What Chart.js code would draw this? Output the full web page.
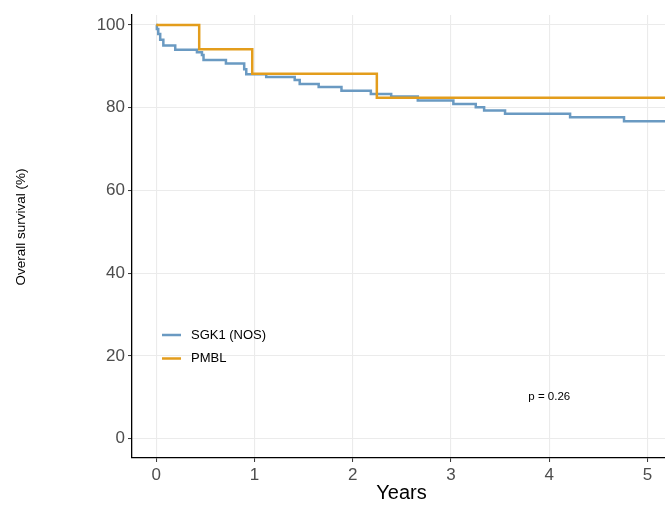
<!DOCTYPE html>
<html>
<head>
<meta charset="utf-8">
<script src="https://cdn.jsdelivr.net/npm/chart.js@4.4.1/dist/chart.umd.min.js"></script>
<style>
  html, body { margin: 0; padding: 0; background: #ffffff; }
  #wrap { width: 665px; height: 508px; }
</style>
</head>
<body>
<div id="wrap"><canvas id="km" width="665" height="508"></canvas></div>
<script>
// Kaplan-Meier estimates: event times (years) and survival (%) after each step
const sgkTimes = [0, 0.006, 0.020, 0.040, 0.072, 0.193, 0.414, 0.465, 0.481, 0.709, 0.895, 0.916,
  1.119, 1.409, 1.460, 1.653, 1.885, 2.184, 2.391, 2.662, 3.024, 3.252, 3.337, 3.550,
  4.212, 4.761, 5.300];
const sgkSurv = [100, 99.0, 97.8, 96.4, 95.0, 94.0, 93.4, 92.7, 91.5, 90.7, 89.3, 88.1,
  87.4, 86.7, 85.7, 85.0, 84.1, 83.3, 82.7, 81.7, 80.9, 80.1, 79.3, 78.5,
  77.7, 76.7, 76.7];

const pmblTimes = [0, 0.437, 0.977, 2.245, 5.300];
const pmblSurv = [100, 94.1, 88.2, 82.4, 82.4];

const seriesNames = ['SGK1 (NOS)', 'PMBL'];
const seriesColors = ['#6a9ac2', '#e39d1c'];

const xTickValues = [0, 1, 2, 3, 4, 5];
const yTickValues = [0, 20, 40, 60, 80, 100];

const xLabel = 'Years';
const yLabel = 'Overall survival (%)';
const pValueText = 'p = 0.26';

const toPoints = (t, s) => t.map((x, i) => ({ x: x, y: s[i] }));

const FONT = '"Liberation Sans", Arial, Helvetica, sans-serif';

// titles, in-panel legend and p-value annotation
const annotations = {
  id: 'kmAnnotations',
  afterDraw(chart) {
    const ctx = chart.ctx;
    const area = chart.chartArea;
    const xs = chart.scales.x;
    const ys = chart.scales.y;
    ctx.save();

    // x axis title
    ctx.fillStyle = '#000000';
    ctx.font = '20px ' + FONT;
    ctx.textAlign = 'center';
    ctx.textBaseline = 'middle';
    ctx.fillText(xLabel, (area.left + area.right) / 2 + 3, 493);

    // y axis title
    ctx.save();
    ctx.translate(21, 227);
    ctx.rotate(-Math.PI / 2);
    ctx.font = '13.5px ' + FONT;
    ctx.fillText(yLabel, 0, 0);
    ctx.restore();

    // legend
    ctx.font = '13px ' + FONT;
    ctx.textAlign = 'left';
    const legX = 162, legY0 = 335, legStep = 23.5;
    seriesNames.forEach((name, i) => {
      const yy = legY0 + i * legStep;
      ctx.strokeStyle = seriesColors[i];
      ctx.lineWidth = 2.5;
      ctx.beginPath();
      ctx.moveTo(legX, yy);
      ctx.lineTo(legX + 19, yy);
      ctx.stroke();
      ctx.fillStyle = '#000000';
      ctx.fillText(name, legX + 29, yy);
    });

    // log-rank p-value
    ctx.font = '11.5px ' + FONT;
    ctx.textAlign = 'center';
    ctx.fillText(pValueText, xs.getPixelForValue(4.0), ys.getPixelForValue(10.2));

    ctx.restore();
  }
};

new Chart(document.getElementById('km'), {
  type: 'line',
  data: {
    datasets: [
      {
        label: seriesNames[0],
        data: toPoints(sgkTimes, sgkSurv),
        borderColor: seriesColors[0],
        borderWidth: 2.5,
        stepped: 'before',
        pointRadius: 0,
        fill: false,
        order: 1
      },
      {
        label: seriesNames[1],
        data: toPoints(pmblTimes, pmblSurv),
        borderColor: seriesColors[1],
        borderWidth: 2.5,
        stepped: 'before',
        pointRadius: 0,
        fill: false,
        order: 0
      }
    ]
  },
  options: {
    responsive: false,
    animation: false,
    layout: { padding: { top: 15, right: 0, left: 0, bottom: 0 } },
    plugins: {
      legend: { display: false },
      tooltip: { enabled: false }
    },
    scales: {
      x: {
        type: 'linear',
        min: -0.247,
        max: 5.178,
        afterBuildTicks: s => { s.ticks = xTickValues.map(v => ({ value: v })); },
        afterFit: s => { s.height = 50; },
        grid: {
          color: '#ebebeb',
          lineWidth: 1.1,
          drawTicks: true,
          tickLength: 4,
          tickColor: '#333333',
          tickWidth: 1
        },
        border: { display: true, color: '#000000', width: 1.3 },
        ticks: {
          color: '#4d4d4d',
          font: { family: FONT, size: 17 },
          padding: 3,
          maxRotation: 0,
          callback: v => String(v)
        }
      },
      y: {
        type: 'linear',
        min: -4.7,
        max: 102.4,
        afterBuildTicks: s => { s.ticks = yTickValues.map(v => ({ value: v })); },
        afterFit: s => { s.width = 132; },
        grid: {
          color: '#ebebeb',
          lineWidth: 1.1,
          drawTicks: true,
          tickLength: 4,
          tickColor: '#333333',
          tickWidth: 1
        },
        border: { display: true, color: '#000000', width: 1.3 },
        ticks: {
          color: '#4d4d4d',
          font: { family: FONT, size: 17 },
          padding: 3,
          callback: v => String(v)
        }
      }
    }
  },
  plugins: [annotations]
});
</script>
</body>
</html>
